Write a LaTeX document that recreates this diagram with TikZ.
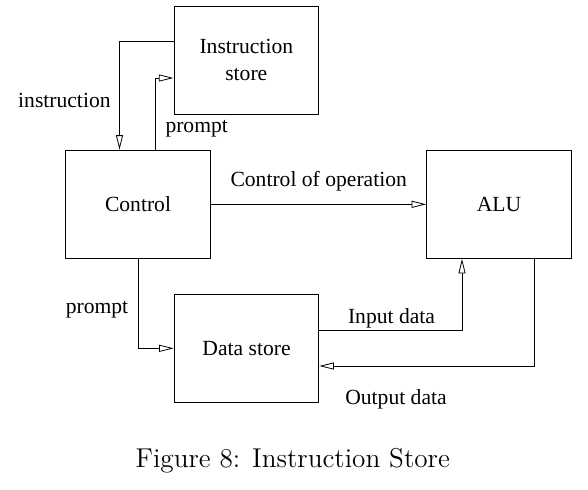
\documentclass[tikz,border=0pt]{standalone}
\usepackage{fontspec}
\newfontfamily\diagfont{Liberation Serif}
\usetikzlibrary{arrows.meta}

\begin{document}
\begin{tikzpicture}[x=0.5pt, y=-0.5pt,
-{Triangle[open, length=7.3pt, width=3.5pt, line width=0.4pt]},
line width=0.5pt,
every node/.style = {font=\diagfont\fontsize{10.8}{13.3}\selectfont},
block/.style = {draw, shape=rectangle, minimum width=72.3pt,
  minimum height=54pt, inner sep=0pt, align=center},
tag/.style = {inner sep=0pt},
caption/.style = {font=\fontsize{13.6}{16}\selectfont, inner sep=0pt}
]
\useasboundingbox (0,0) rectangle (588,489);

% boxes
\node [block] (istore) at (246.3,60) {Instruction\\store};
\node [block] (ctrl) at (138,204.3) {Control};
\node [block] (alu) at (499,204.3) {ALU};
\node [block] (dstore) at (246.5,348.3) {Data store};

% connectors
\draw ([yshift=9.15pt]istore.west) -| ([xshift=-9.25pt]ctrl.north);
\draw ([xshift=8.65pt]ctrl.north) |- ([yshift=-9pt]istore.west);
\draw (ctrl.east) -- (alu.west);
\draw (ctrl.south) |- (dstore.west);
\draw ([yshift=9.15pt]dstore.east) -| ([xshift=-18.5pt]alu.south);
\draw ([xshift=17.5pt]alu.south) |- ([yshift=-8.85pt]dstore.east);

% labels
\node [tag] (tinstr) at (64.4,100.5) {instruction};
\node [tag] (tpromptup) at (196.7,129) {prompt};
\node [tag] (tcontrol) at (318.7,181) {Control of operation};
\node [tag] (tpromptdown) at (97,310) {prompt};
\node [tag] (tinput) at (391.5,318) {Input data};
\node [tag] (toutput) at (396,399) {Output data};

\node [caption, anchor=base] (fig) at (292.8,467.3) {Figure 8: Instruction Store};

\end{tikzpicture}
\end{document}
